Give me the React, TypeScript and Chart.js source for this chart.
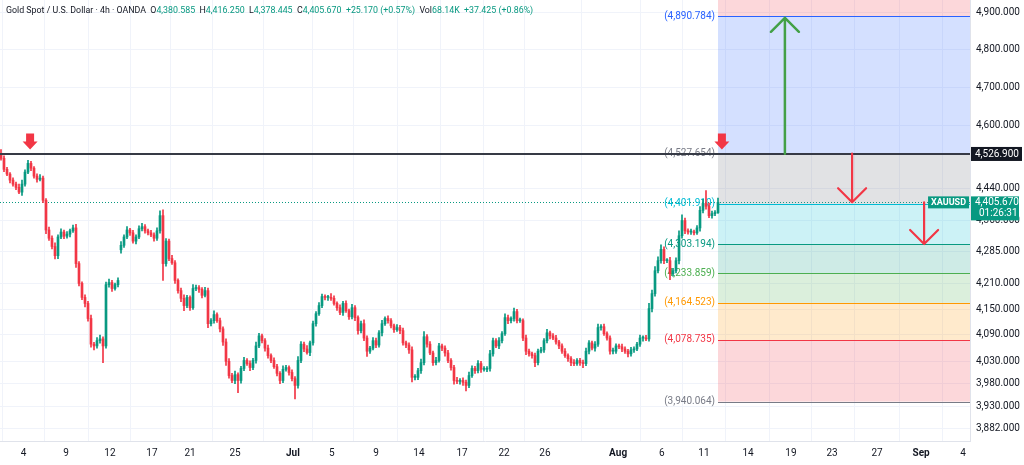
import React, { useEffect, useRef } from "react";
import { Chart, registerables } from "chart.js";

Chart.register(...registerables);

// ---- data ----
const closes = [
  4516, 4488, 4476, 4461, 4451, 4443, 4431, 4451, 4481, 4503,
  4491, 4471, 4463, 4466, 4411, 4338, 4318, 4298, 4276, 4321,
  4333, 4323, 4328, 4336, 4343, 4257, 4210, 4177, 4163, 4128,
  4069, 4065, 4077, 4081, 4065, 4207, 4212, 4198, 4207, 4217,
  4301, 4321, 4338, 4331, 4311, 4321, 4341, 4346, 4336, 4331,
  4326, 4318, 4336, 4373, 4257, 4311, 4269, 4259, 4217, 4193,
  4175, 4158, 4177, 4153, 4198, 4200, 4196, 4182, 4193, 4116,
  4123, 4137, 4123, 4104, 4074, 4030, 3998, 3987, 4000, 3987,
  4014, 4032, 4025, 4016, 4032, 4065, 4088, 4077, 4060, 4043,
  4032, 4018, 4003, 3987, 4012, 4016, 4005, 3991, 3976, 4032,
  4069, 4058, 4050, 4072, 4116, 4139, 4158, 4179, 4177, 4177,
  4175, 4163, 4153, 4142, 4163, 4146, 4132, 4153, 4130, 4100,
  4116, 4083, 4053, 4060, 4077, 4067, 4095, 4116, 4128, 4123,
  4111, 4102, 4107, 4100, 4072, 4067, 4056, 3994, 3994, 4009,
  4027, 4086, 4069, 4049, 4027, 4032, 4065, 4060, 4049, 4032,
  4016, 3987, 3985, 3987, 3983, 3976, 3998, 4014, 4009, 4025,
  4012, 4012, 4014, 4047, 4077, 4065, 4077, 4093, 4130, 4123,
  4128, 4144, 4123, 4123, 4083, 4053, 4047, 4043, 4027, 4053,
  4056, 4077, 4095, 4088, 4083, 4074, 4065, 4053, 4043, 4036,
  4027, 4025, 4032, 4027, 4025, 4053, 4072, 4060, 4069, 4107,
  4109, 4093, 4083, 4053, 4053, 4065, 4063, 4058, 4053, 4047,
  4056, 4058, 4069, 4083, 4083, 4081, 4151, 4186, 4240, 4264,
  4291, 4264, 4264, 4233, 4240, 4264, 4324, 4361, 4336, 4333,
  4333, 4331, 4343, 4386, 4403, 4396, 4373, 4378, 4380.585, 4405.67,
];
const wickUp = [
  11, 6, 5, 4, 6, 5, 8, 10, 6, 8, 5, 4, 6, 9, 5, 4, 7, 6, 9, 5,
  8, 5, 6, 4, 7, 9, 5, 4, 6, 5, 8, 4, 7, 9, 5, 6, 8, 5, 4, 6,
  9, 5, 8, 4, 6, 5, 7, 8, 5, 4, 6, 5, 7, 12, 14, 6, 5, 8, 5, 4,
  6, 8, 5, 4, 9, 6, 5, 4, 8, 6, 5, 9, 4, 6, 5, 7, 6, 5, 8, 4,
  5, 7, 4, 6, 5, 9, 6, 4, 5, 7, 4, 6, 5, 4, 8, 5, 4, 6, 5, 9,
  6, 5, 8, 4, 6, 5, 7, 6, 4, 5, 9, 6, 4, 7, 5, 6, 4, 8, 5, 4,
  6, 9, 5, 4, 7, 6, 5, 8, 4, 6, 5, 4, 7, 5, 6, 4, 5, 7, 6, 5,
  8, 12, 5, 6, 4, 7, 6, 4, 5, 6, 4, 5, 7, 4, 6, 5, 8, 6, 5, 7,
  5, 6, 4, 8, 6, 5, 7, 5, 9, 6, 4, 8, 5, 6, 4, 7, 5, 4, 6, 5,
  6, 5, 8, 4, 5, 6, 4, 5, 6, 4, 5, 7, 4, 5, 6, 7, 5, 4, 6, 8,
  5, 6, 4, 5, 7, 5, 4, 6, 5, 4, 6, 5, 4, 7, 5, 6, 12, 8, 10, 9,
  11, 6, 5, 8, 6, 7, 12, 14, 6, 5, 7, 5, 6, 9, 10, 32, 8, 6, 5, 10.58,
];
const wickDn = [
  5, 6, 4, 7, 5, 6, 4, 8, 5, 4, 6, 5, 7, 4, 6, 9, 5, 6, 8, 7,
  4, 6, 5, 7, 4, 9, 6, 5, 8, 6, 7, 9, 5, 6, 38, 5, 6, 7, 4, 5,
  8, 5, 4, 6, 5, 7, 4, 5, 6, 5, 4, 7, 5, 6, 40, 6, 5, 4, 7, 6,
  8, 12, 5, 6, 4, 5, 7, 6, 4, 9, 5, 6, 4, 7, 8, 9, 6, 5, 7, 27,
  6, 5, 4, 7, 5, 6, 4, 5, 7, 6, 5, 4, 6, 7, 5, 4, 6, 5, 30, 6,
  5, 6, 4, 7, 5, 6, 4, 5, 6, 7, 5, 4, 6, 5, 7, 4, 6, 5, 7, 8,
  5, 6, 12, 5, 4, 6, 5, 7, 4, 6, 5, 6, 4, 7, 5, 6, 8, 10, 6, 5,
  6, 5, 7, 4, 6, 5, 4, 6, 7, 5, 6, 8, 5, 6, 7, 12, 5, 4, 6, 5,
  7, 4, 5, 6, 5, 4, 6, 5, 4, 7, 5, 6, 5, 4, 6, 8, 5, 6, 9, 5,
  4, 6, 5, 7, 4, 5, 6, 5, 4, 6, 7, 5, 4, 6, 9, 5, 6, 4, 7, 5,
  6, 4, 5, 7, 6, 5, 4, 6, 5, 7, 5, 6, 4, 5, 7, 4, 5, 8, 6, 5,
  6, 7, 5, 14, 6, 5, 8, 6, 7, 5, 6, 5, 4, 8, 6, 7, 5, 6, 5, 2.14,
];
const firstOpen = 4527.2;
const gapOpenIdx = [40];
const gapOpenVal = [4290];

const dateTickIdx = [7.5, 21.7, 36.3, 50.3, 63, 78, 97.3, 110.3, 125, 139.3, 153.7, 167.7, 181.3, 205.7, 220.3, 234.3, 249, 263.3, 277, 292, 306.7, 320.7];
const dateTickLabels = ["4", "9", "12", "17", "21", "25", "Jul", "5", "9", "14", "17", "22", "26", "Aug", "6", "11", "14", "19", "23", "27", "Sep", "4"];
const monthLabels = ["Jul", "Aug", "Sep"];
const priceTicks = [4900, 4800, 4700, 4600, 4440, 4360, 4285, 4210, 4150, 4090, 4030, 3980, 3930, 3882];

const fibStartIdx = 239;
const fibPrices = [3940.064, 4078.735, 4164.523, 4233.859, 4303.194, 4401.91, 4527.654, 4890.784, 5478.395];
const fibColors = ["#787b86", "#f23645", "#ff9800", "#4caf50", "#089981", "#00bcd4", "#787b86", "#2962ff", "#f23645"];

const resistancePrice = 4526.9;
const markerIdx = [9.7, 240.3];
const markerPrice = [4538, 4538];
const greenArrow = { idx: 261.3, from: 4527.654, to: 4886 };
const redArrowIdx = [283.7, 307.7];
const redArrowFrom = [4527.654, 4405.67];
const redArrowTo = [4406, 4304];

const symbol = "XAUUSD";
const countdown = "01:26:31";
const headerTitle = "Gold Spot / U.S. Dollar · 4h · OANDA";
const headerO = "4,380.585";
const headerH = "4,416.250";
const headerL = "4,378.445";
const headerC = "4,405.670";
const headerChg = "+25.170 (+0.57%)";
const headerVol = "68.14K";
const headerVolChg = "+37.425 (+0.86%)";

const UP = "#089981";
const DOWN = "#f23645";
const FONT = "Roboto";

const fmt = (v: number) =>
  v.toLocaleString("en-US", { minimumFractionDigits: 3, maximumFractionDigits: 3 });

function rgba(hex: string, a: number) {
  const n = parseInt(hex.slice(1), 16);
  return `rgba(${(n >> 16) & 255},${(n >> 8) & 255},${n & 255},${a})`;
}

const opens = closes.map((c, i) => {
  const g = gapOpenIdx.indexOf(i);
  if (g >= 0) return gapOpenVal[g];
  return i === 0 ? firstOpen : closes[i - 1];
});
const highs = closes.map((c, i) => Math.max(c, opens[i]) + wickUp[i]);
const lows = closes.map((c, i) => Math.min(c, opens[i]) - wickDn[i]);
const colors = closes.map((c, i) => (c >= opens[i] ? UP : DOWN));
const lastPrice = closes[closes.length - 1];

const overlay = {
  id: "tvOverlay",
  beforeDatasetsDraw(chart: any) {
    const { ctx, chartArea: a, scales } = chart;
    const x = scales.x, y = scales.y;
    ctx.save();
    ctx.beginPath();
    ctx.rect(a.left, a.top, a.right - a.left, a.bottom - a.top);
    ctx.clip();
    // current price dotted line
    const yl = Math.round(y.getPixelForValue(lastPrice)) + 0.5;
    ctx.strokeStyle = UP;
    ctx.lineWidth = 1;
    ctx.setLineDash([1, 2]);
    ctx.beginPath();
    ctx.moveTo(a.left, yl);
    ctx.lineTo(a.right, yl);
    ctx.stroke();
    ctx.setLineDash([]);
    // fib bands
    const fx = x.getPixelForValue(fibStartIdx);
    for (let k = 1; k < fibPrices.length; k++) {
      const y0 = y.getPixelForValue(fibPrices[k - 1]);
      const y1 = y.getPixelForValue(fibPrices[k]);
      ctx.fillStyle = rgba(fibColors[k], fibColors[k] === "#787b86" ? 0.22 : 0.2);
      ctx.fillRect(fx, y1, a.right - fx, y0 - y1);
    }
    ctx.font = `10px ${FONT}`;
    ctx.textAlign = "right";
    ctx.textBaseline = "middle";
    for (let k = 0; k < fibPrices.length; k++) {
      const yy = y.getPixelForValue(fibPrices[k]);
      if (yy < a.top || yy > a.bottom) continue;
      const yr = Math.round(yy) + 0.5;
      ctx.strokeStyle = fibColors[k];
      ctx.lineWidth = 1;
      ctx.beginPath();
      ctx.moveTo(fx, yr);
      ctx.lineTo(a.right, yr);
      ctx.stroke();
      ctx.fillStyle = fibColors[k];
      ctx.fillText(`(${fmt(fibPrices[k])})`, fx - 3, yy);
    }
    ctx.restore();
  },
  afterDatasetsDraw(chart: any) {
    const { ctx, chartArea: a, scales } = chart;
    const x = scales.x, y = scales.y;
    ctx.save();
    ctx.beginPath();
    ctx.rect(a.left, a.top, a.right - a.left, a.bottom - a.top);
    ctx.clip();
    // resistance line
    const yr = Math.round(y.getPixelForValue(resistancePrice));
    ctx.strokeStyle = "#363a45";
    ctx.lineWidth = 2;
    ctx.beginPath();
    ctx.moveTo(a.left, yr);
    ctx.lineTo(a.right, yr);
    ctx.stroke();
    // red block markers
    ctx.fillStyle = DOWN;
    for (let m = 0; m < markerIdx.length; m++) {
      const px = x.getPixelForValue(markerIdx[m]);
      const py = y.getPixelForValue(markerPrice[m]);
      ctx.beginPath();
      ctx.moveTo(px - 4, py - 16);
      ctx.lineTo(px + 4, py - 16);
      ctx.lineTo(px + 4, py - 8);
      ctx.lineTo(px + 7.5, py - 8);
      ctx.lineTo(px, py);
      ctx.lineTo(px - 7.5, py - 8);
      ctx.lineTo(px - 4, py - 8);
      ctx.closePath();
      ctx.fill();
    }
    const arrow = (idx: number, from: number, to: number, color: string, w: number) => {
      const px = x.getPixelForValue(idx);
      const y0 = y.getPixelForValue(from);
      const y1 = y.getPixelForValue(to);
      const dir = y1 < y0 ? 1 : -1;
      ctx.strokeStyle = color;
      ctx.lineWidth = w;
      ctx.lineCap = "round";
      ctx.lineJoin = "round";
      ctx.beginPath();
      ctx.moveTo(px, y0);
      ctx.lineTo(px, y1);
      ctx.moveTo(px - 14, y1 + dir * 14);
      ctx.lineTo(px, y1);
      ctx.lineTo(px + 14, y1 + dir * 14);
      ctx.stroke();
    };
    arrow(greenArrow.idx, greenArrow.from, greenArrow.to, "#43a047", 2.5);
    for (let r = 0; r < redArrowIdx.length; r++) {
      arrow(redArrowIdx[r], redArrowFrom[r], redArrowTo[r], DOWN, 2.2);
    }
    ctx.restore();
  },
  afterDraw(chart: any) {
    const { ctx, chartArea: a, scales } = chart;
    const y = scales.y;
    ctx.save();
    // resistance axis label
    const yr = y.getPixelForValue(resistancePrice);
    ctx.fillStyle = "#131722";
    ctx.fillRect(a.right + 1, yr - 7, 51, 14);
    ctx.fillStyle = "#ffffff";
    ctx.font = `10px ${FONT}`;
    ctx.textAlign = "left";
    ctx.textBaseline = "middle";
    ctx.fillText(fmt(resistancePrice), a.right + 5, yr + 0.5);
    // current price label
    const yl = y.getPixelForValue(lastPrice);
    ctx.fillStyle = UP;
    ctx.fillRect(a.right + 1, yl - 6, 48, 24);
    ctx.fillStyle = "#ffffff";
    ctx.fillText(fmt(lastPrice), a.right + 5, yl + 0.5);
    ctx.fillText(countdown, a.right + 9, yl + 11.5);
    // symbol label
    ctx.font = `bold 9px ${FONT}`;
    const sw = ctx.measureText(symbol).width + 6;
    ctx.fillStyle = UP;
    ctx.fillRect(a.right - sw - 1, yl - 6, sw, 12);
    ctx.fillStyle = "#ffffff";
    ctx.textAlign = "center";
    ctx.fillText(symbol, a.right - 1 - sw / 2, yl + 0.5);
    // header
    ctx.textAlign = "left";
    ctx.textBaseline = "middle";
    ctx.font = `11px ${FONT}`;
    const tw = ctx.measureText(headerTitle).width;
    const size = Math.max(8, Math.min(12, (11 * 140) / tw));
    ctx.font = `${size.toFixed(2)}px ${FONT}`;
    const segs: [string, string][] = [
      [headerTitle, "#131722"], ["  O", "#131722"], [headerO, UP],
      ["  H", "#131722"], [headerH, UP], ["  L", "#131722"], [headerL, UP],
      ["  C", "#131722"], [headerC, UP], ["  " + headerChg, UP],
      ["  Vol", "#131722"], [headerVol, UP], ["  " + headerVolChg, UP],
    ];
    let hx = 6;
    for (const [t, c] of segs) {
      ctx.fillStyle = c;
      ctx.fillText(t, hx, 11);
      hx += ctx.measureText(t).width;
    }
    ctx.restore();
  },
};

export default function App() {
  const ref = useRef<HTMLCanvasElement>(null);
  useEffect(() => {
    document.body.style.margin = "0";
    Chart.defaults.font.family = FONT;
    const canvas = ref.current!;
    const chart = new Chart(canvas, {
      type: "bar",
      data: {
        datasets: [
          {
            label: "wick",
            data: closes.map((c, i) => ({ x: i, y: [lows[i], highs[i]] })) as any,
            backgroundColor: colors,
            barThickness: 1,
            grouped: false,
            order: 2,
          } as any,
          {
            label: "body",
            data: closes.map((c, i) => ({ x: i, y: [opens[i], closes[i]] })) as any,
            backgroundColor: colors,
            barThickness: 2,
            minBarLength: 1,
            grouped: false,
            order: 1,
          } as any,
        ],
      },
      options: {
        animation: false,
        responsive: false,
        events: [],
        layout: { padding: 0 },
        plugins: { legend: { display: false }, tooltip: { enabled: false } },
        scales: {
          x: {
            type: "linear",
            min: -1 / 3,
            max: 323,
            offset: false,
            afterBuildTicks: (s: any) => {
              s.ticks = dateTickIdx.map((v) => ({ value: v }));
            },
            afterFit: (s: any) => {
              s.height = 24;
              s.paddingLeft = 0;
              s.paddingRight = 0;
            },
            ticks: {
              autoSkip: false,
              maxRotation: 0,
              padding: 6,
              color: "#131722",
              font: (c: any) => ({
                size: 10,
                weight: monthLabels.includes(dateTickLabels[c.index]) ? "bold" : "normal",
              }),
              callback: (_v: any, i: number) => dateTickLabels[i],
            },
            grid: { color: "#f0f3fa", drawTicks: false },
            border: { display: true, color: "#e0e3eb" },
          } as any,
          y: {
            type: "logarithmic",
            position: "right",
            min: 3854,
            max: 4935,
            afterBuildTicks: (s: any) => {
              s.ticks = priceTicks.map((v) => ({ value: v }));
            },
            afterFit: (s: any) => {
              s.width = 54;
              s.paddingTop = 0;
              s.paddingBottom = 0;
            },
            ticks: {
              autoSkip: false,
              padding: 6,
              color: "#131722",
              font: { size: 10 },
              callback: (v: any) => fmt(Number(v)),
            },
            grid: { color: "#f0f3fa", drawTicks: false },
            border: { display: true, color: "#e0e3eb" },
          } as any,
        },
      },
      plugins: [overlay],
    });
    return () => chart.destroy();
  }, []);
  return (
    <div style={{ width: 1024, height: 465, background: "#ffffff" }}>
      <canvas ref={ref} width={1024} height={465} />
    </div>
  );
}
